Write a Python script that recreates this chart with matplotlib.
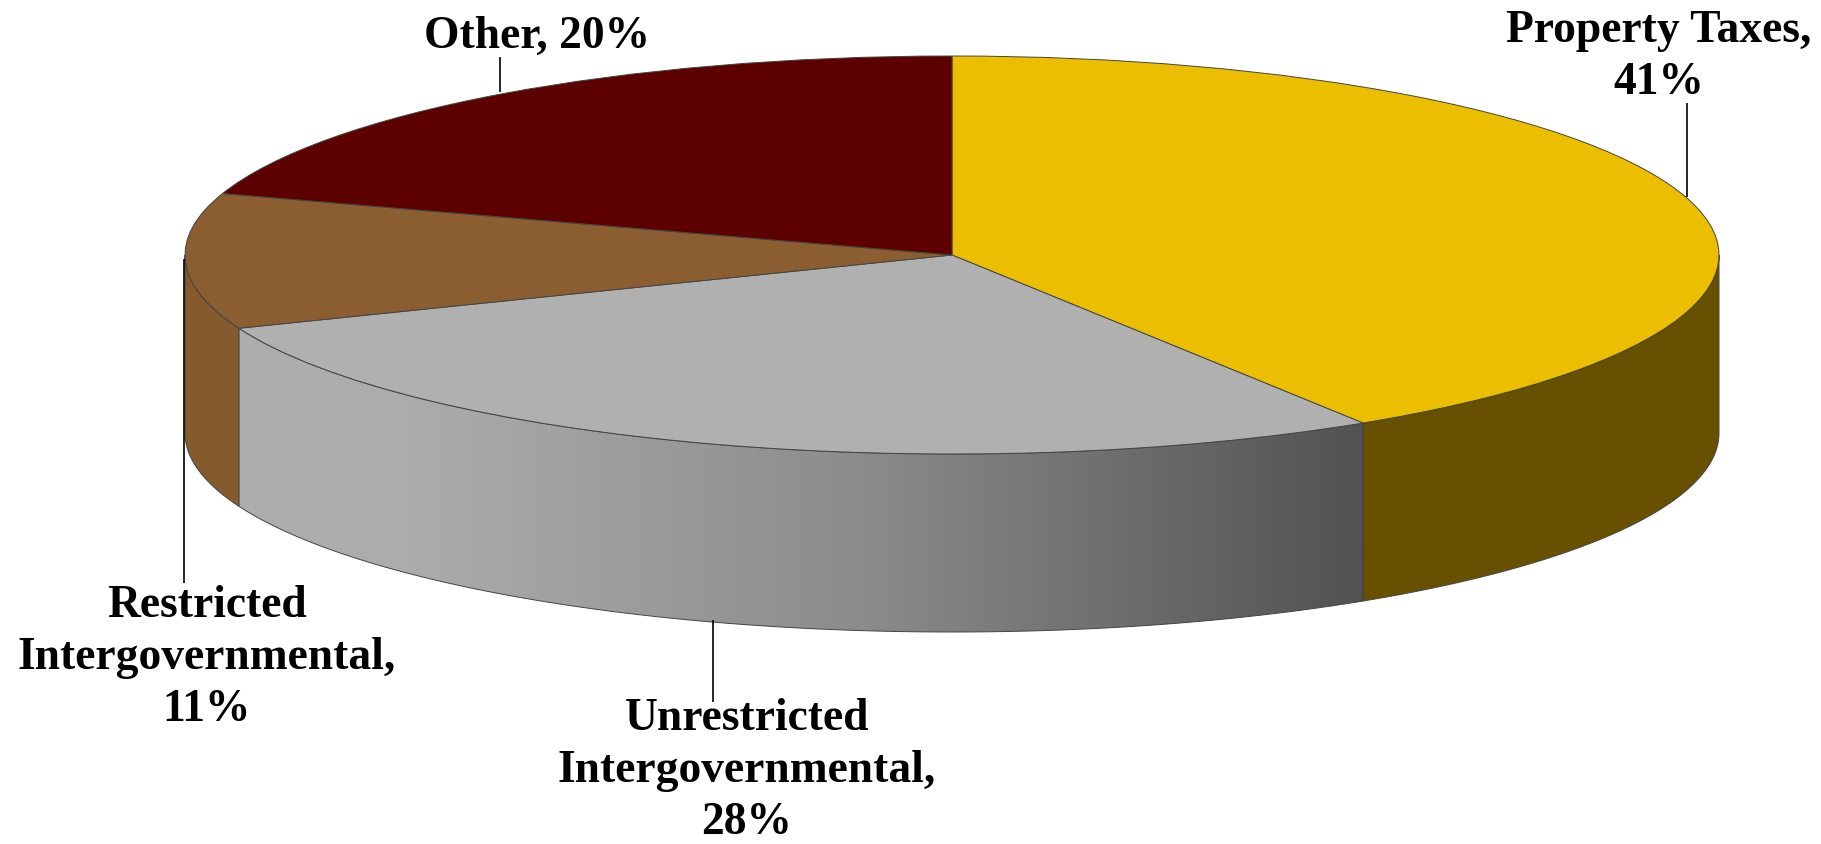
import numpy as np
import matplotlib
matplotlib.use("Agg")
import matplotlib.pyplot as plt
from matplotlib.colors import LinearSegmentedColormap
from matplotlib.patches import Polygon

categories = ["Property Taxes", "Unrestricted Intergovernmental", "Restricted Intergovernmental", "Other"]
values = [41, 28, 11, 20]
top_colors = ["#EBBF00", "#B0B0B0", "#8A5E30", "#5C0000"]
side_colors = ["#675000", None, "#855A2D", None]

W, H = 1821, 845
CX, CY, RX, RY = 952, 256, 767, 199
DEPTH = 178 / RY
EDGE = "#444444"

# shading of the grey side, left to right along the rim
grey_stops = [(0.0, "#AEAEAE"), (0.15, "#ACACAC"), (0.55, "#8C8C8C"), (1.0, "#525252")]

label_text = [
    "Property Taxes,\n41%",
    "Unrestricted\nIntergovernmental,\n28%",
    "Restricted\nIntergovernmental,\n11%",
    "Other, 20%",
]
label_pos = [(1659, 57), (747, 771), (207, 658), (537, 37)]
leaders = [(1687, 104, 198), (713, 621, 703), (184, 260, 584), (500, 58, 93)]

plt.rcParams["font.family"] = ["Liberation Serif", "DejaVu Serif"]

fig = plt.figure(figsize=(W / 100, H / 100), dpi=100)
ax = fig.add_axes([0, 0, 1, 1])

xlim = (-CX / RX, (W - CX) / RX)
ylim = (-(H - CY) / RY, CY / RY)

# front wall of the disc, only the part of each slice facing the viewer
edges = np.cumsum([0] + values) / sum(values) * 360
for i in range(len(values)):
    a0, a1 = max(edges[i], 90), min(edges[i + 1], 270)
    if a0 >= a1:
        continue
    t = np.radians(np.linspace(a0, a1, 200))
    x, y = np.sin(t), np.cos(t)
    verts = np.r_[np.c_[x, y], np.c_[x[::-1], y[::-1] - DEPTH]]
    if side_colors[i] is None:
        cmap = LinearSegmentedColormap.from_list("side", grey_stops)
        grad = np.linspace(0, 1, 400)[None, :]
        left, right = x.min(), x.max()
        im = ax.imshow(grad, cmap=cmap, aspect="auto", zorder=0,
                       extent=(left, right, y.min() - DEPTH, y.max()))
        im.set_clip_path(Polygon(verts, transform=ax.transData))
        ax.add_patch(Polygon(verts, closed=True, fill=False, ec=EDGE, lw=0.7, zorder=1))
    else:
        ax.add_patch(Polygon(verts, closed=True, fc=side_colors[i], ec=EDGE, lw=0.7, zorder=1))

ax.pie(values, colors=top_colors, startangle=90, counterclock=False, radius=1,
       wedgeprops={"edgecolor": EDGE, "linewidth": 0.7, "zorder": 2})
ax.set_aspect("auto")
ax.set_xlim(*xlim)
ax.set_ylim(*ylim)
ax.axis("off")

# labels and leader lines are laid out in pixels
over = fig.add_axes([0, 0, 1, 1], facecolor="none")
over.set_xlim(0, W)
over.set_ylim(H, 0)
over.axis("off")
for txt, (tx, ty), (lx, y0, y1) in zip(label_text, label_pos, leaders):
    over.text(tx, ty, txt, ha="center", va="center", fontsize=32.8, fontweight="bold",
              color="black", linespacing=1.32)
    over.plot([lx, lx], [y0, y1], color="black", lw=1.2, solid_capstyle="butt")

fig.savefig("out.png", dpi=100)
